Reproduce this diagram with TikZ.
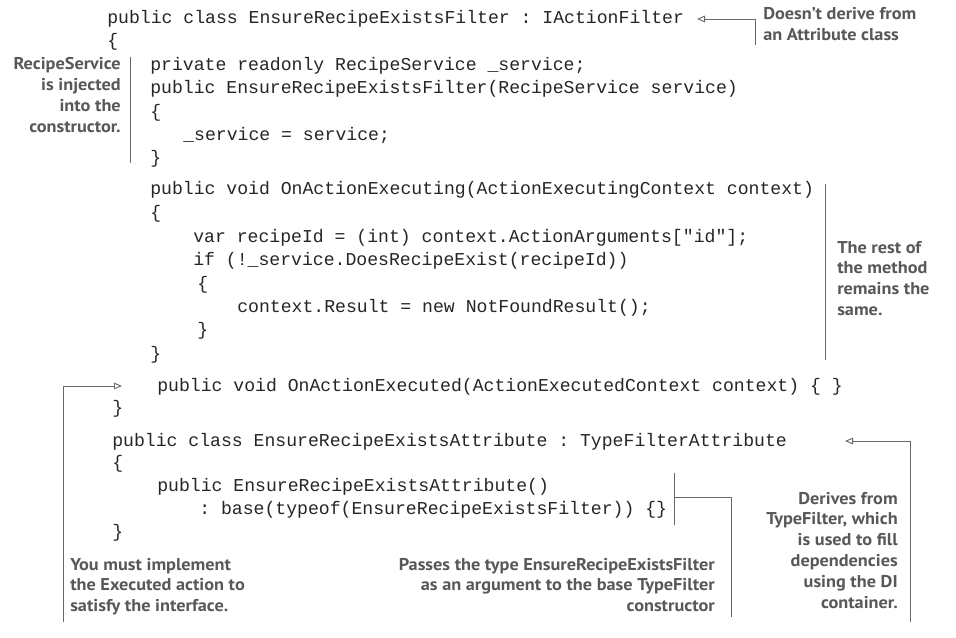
\documentclass[tikz,border=0pt]{standalone}
\usepackage{fontspec}
\setmonofont{Liberation Mono}
\newfontfamily\notefont[FakeStretch=1.07]{PT Sans}
\usetikzlibrary{arrows.meta}
\definecolor{notegray}{RGB}{88,88,88}
\definecolor{linegray}{RGB}{105,105,105}
\tikzset{
  code/.style={anchor=base west, inner sep=0pt, text=black!85, font=\ttfamily\fontsize{13.6}{16}\selectfont},
  note/.style={inner sep=0pt, text=notegray, font=\notefont\bfseries\fontsize{12.8}{15.6}\selectfont},
  callout/.style={draw=linegray, line width=0.7pt},
  opentip/.style={-{Triangle[open,length=6pt,width=5pt]}},
}
\begin{document}
\begin{tikzpicture}[x=0.75pt,y=0.75pt,yscale=-1,xscale=1]
%set diagram size
\fill[white] (0,0) rectangle (956,638);
\useasboundingbox (0,0) rectangle (956,638);

% Code lines: filter class
\node[code] (l1) at (107,24) {public class EnsureRecipeExistsFilter : IActionFilter};
\node[code] (l2) at (107,47) {\{};
\node[code] (l3) at (150,71) {private readonly RecipeService \_service;};
\node[code] (l4) at (150,94) {public EnsureRecipeExistsFilter(RecipeService service)};
\node[code] (l5) at (150,118) {\{};
\node[code] (l6) at (183,141) {\_service = service;};
\node[code] (l7) at (150,164) {\}};
\node[code] (l8) at (150,195) {public void OnActionExecuting(ActionExecutingContext context)};
\node[code] (l9) at (150,218) {\{};
\node[code] (l10) at (193,242) {var recipeId = (int) context.ActionArguments["id"];};
\node[code] (l11) at (193,265) {if (!\_service.DoesRecipeExist(recipeId))};
\node[code] (l12) at (197,289) {\{};
\node[code] (l13) at (237,312) {context.Result = new NotFoundResult();};
\node[code] (l14) at (197,335) {\}};
\node[code] (l15) at (150,359) {\}};
\node[code] (l16) at (157,391) {public void OnActionExecuted(ActionExecutedContext context) \{ \}};
\node[code] (l17) at (112,413) {\}};

% Code lines: attribute class
\node[code] (l18) at (112,446) {public class EnsureRecipeExistsAttribute : TypeFilterAttribute};
\node[code] (l19) at (112,468) {\{};
\node[code] (l20) at (157,491) {public EnsureRecipeExistsAttribute()};
\node[code] (l21) at (199,514) {: base(typeof(EnsureRecipeExistsFilter)) \{\}};
\node[code] (l22) at (112,537) {\}};

% Text Node (base = last line)
\node[note, anchor=base west, align=left] (doesnt) at (763,40.8) {Doesn’t derive from\\an Attribute class};
% Text Node
\node[note, anchor=base east, align=right] (injected) at (121,132.4) {RecipeService\\is injected\\into the\\constructor.};
% Text Node
\node[note, anchor=base west, align=left] (rest) at (837,315.4) {The rest of\\the method\\remains the\\same.};
% Text Node
\node[note, anchor=base west, align=left] (implement) at (70,611.6) {You must implement\\the Executed action to\\satisfy the interface.};
% Text Node
\node[note, anchor=base east, align=right] (passes) at (715,611.6) {Passes the type EnsureRecipeExistsFilter\\as an argument to the base TypeFilter\\constructor};
% Text Node
\node[note, anchor=base east, align=right] (derives) at (898,608) {Derives from\\TypeFilter, which\\is used to fill\\dependencies\\using the DI\\container.};

% Connector corners
\coordinate (doesnt-foot) at (755,45);
\coordinate (doesnt-tip) at (697,19);
\coordinate (injected-top) at (130,57);
\coordinate (injected-foot) at (130,163);
\coordinate (rest-top) at (825,184);
\coordinate (rest-foot) at (825,360);
\coordinate (implement-foot) at (63,622);
\coordinate (implement-tip) at (122,386);
\coordinate (passes-top) at (674,473);
\coordinate (passes-mid) at (674,497);
\coordinate (passes-bot) at (674,525);
\coordinate (passes-foot) at (731,617);
\coordinate (derives-foot) at (910,622);
\coordinate (derives-tip) at (845,441);

%Straight Lines
\draw[callout, opentip] (doesnt-foot) |- (doesnt-tip);
\draw[callout] (injected-top) -- (injected-foot);
\draw[callout] (rest-top) -- (rest-foot);
\draw[callout, opentip] (implement-foot) |- (implement-tip);
\draw[callout] (passes-top) -- (passes-bot);
\draw[callout] (passes-mid) -| (passes-foot);
\draw[callout, opentip] (derives-foot) |- (derives-tip);
\end{tikzpicture}
\end{document}
